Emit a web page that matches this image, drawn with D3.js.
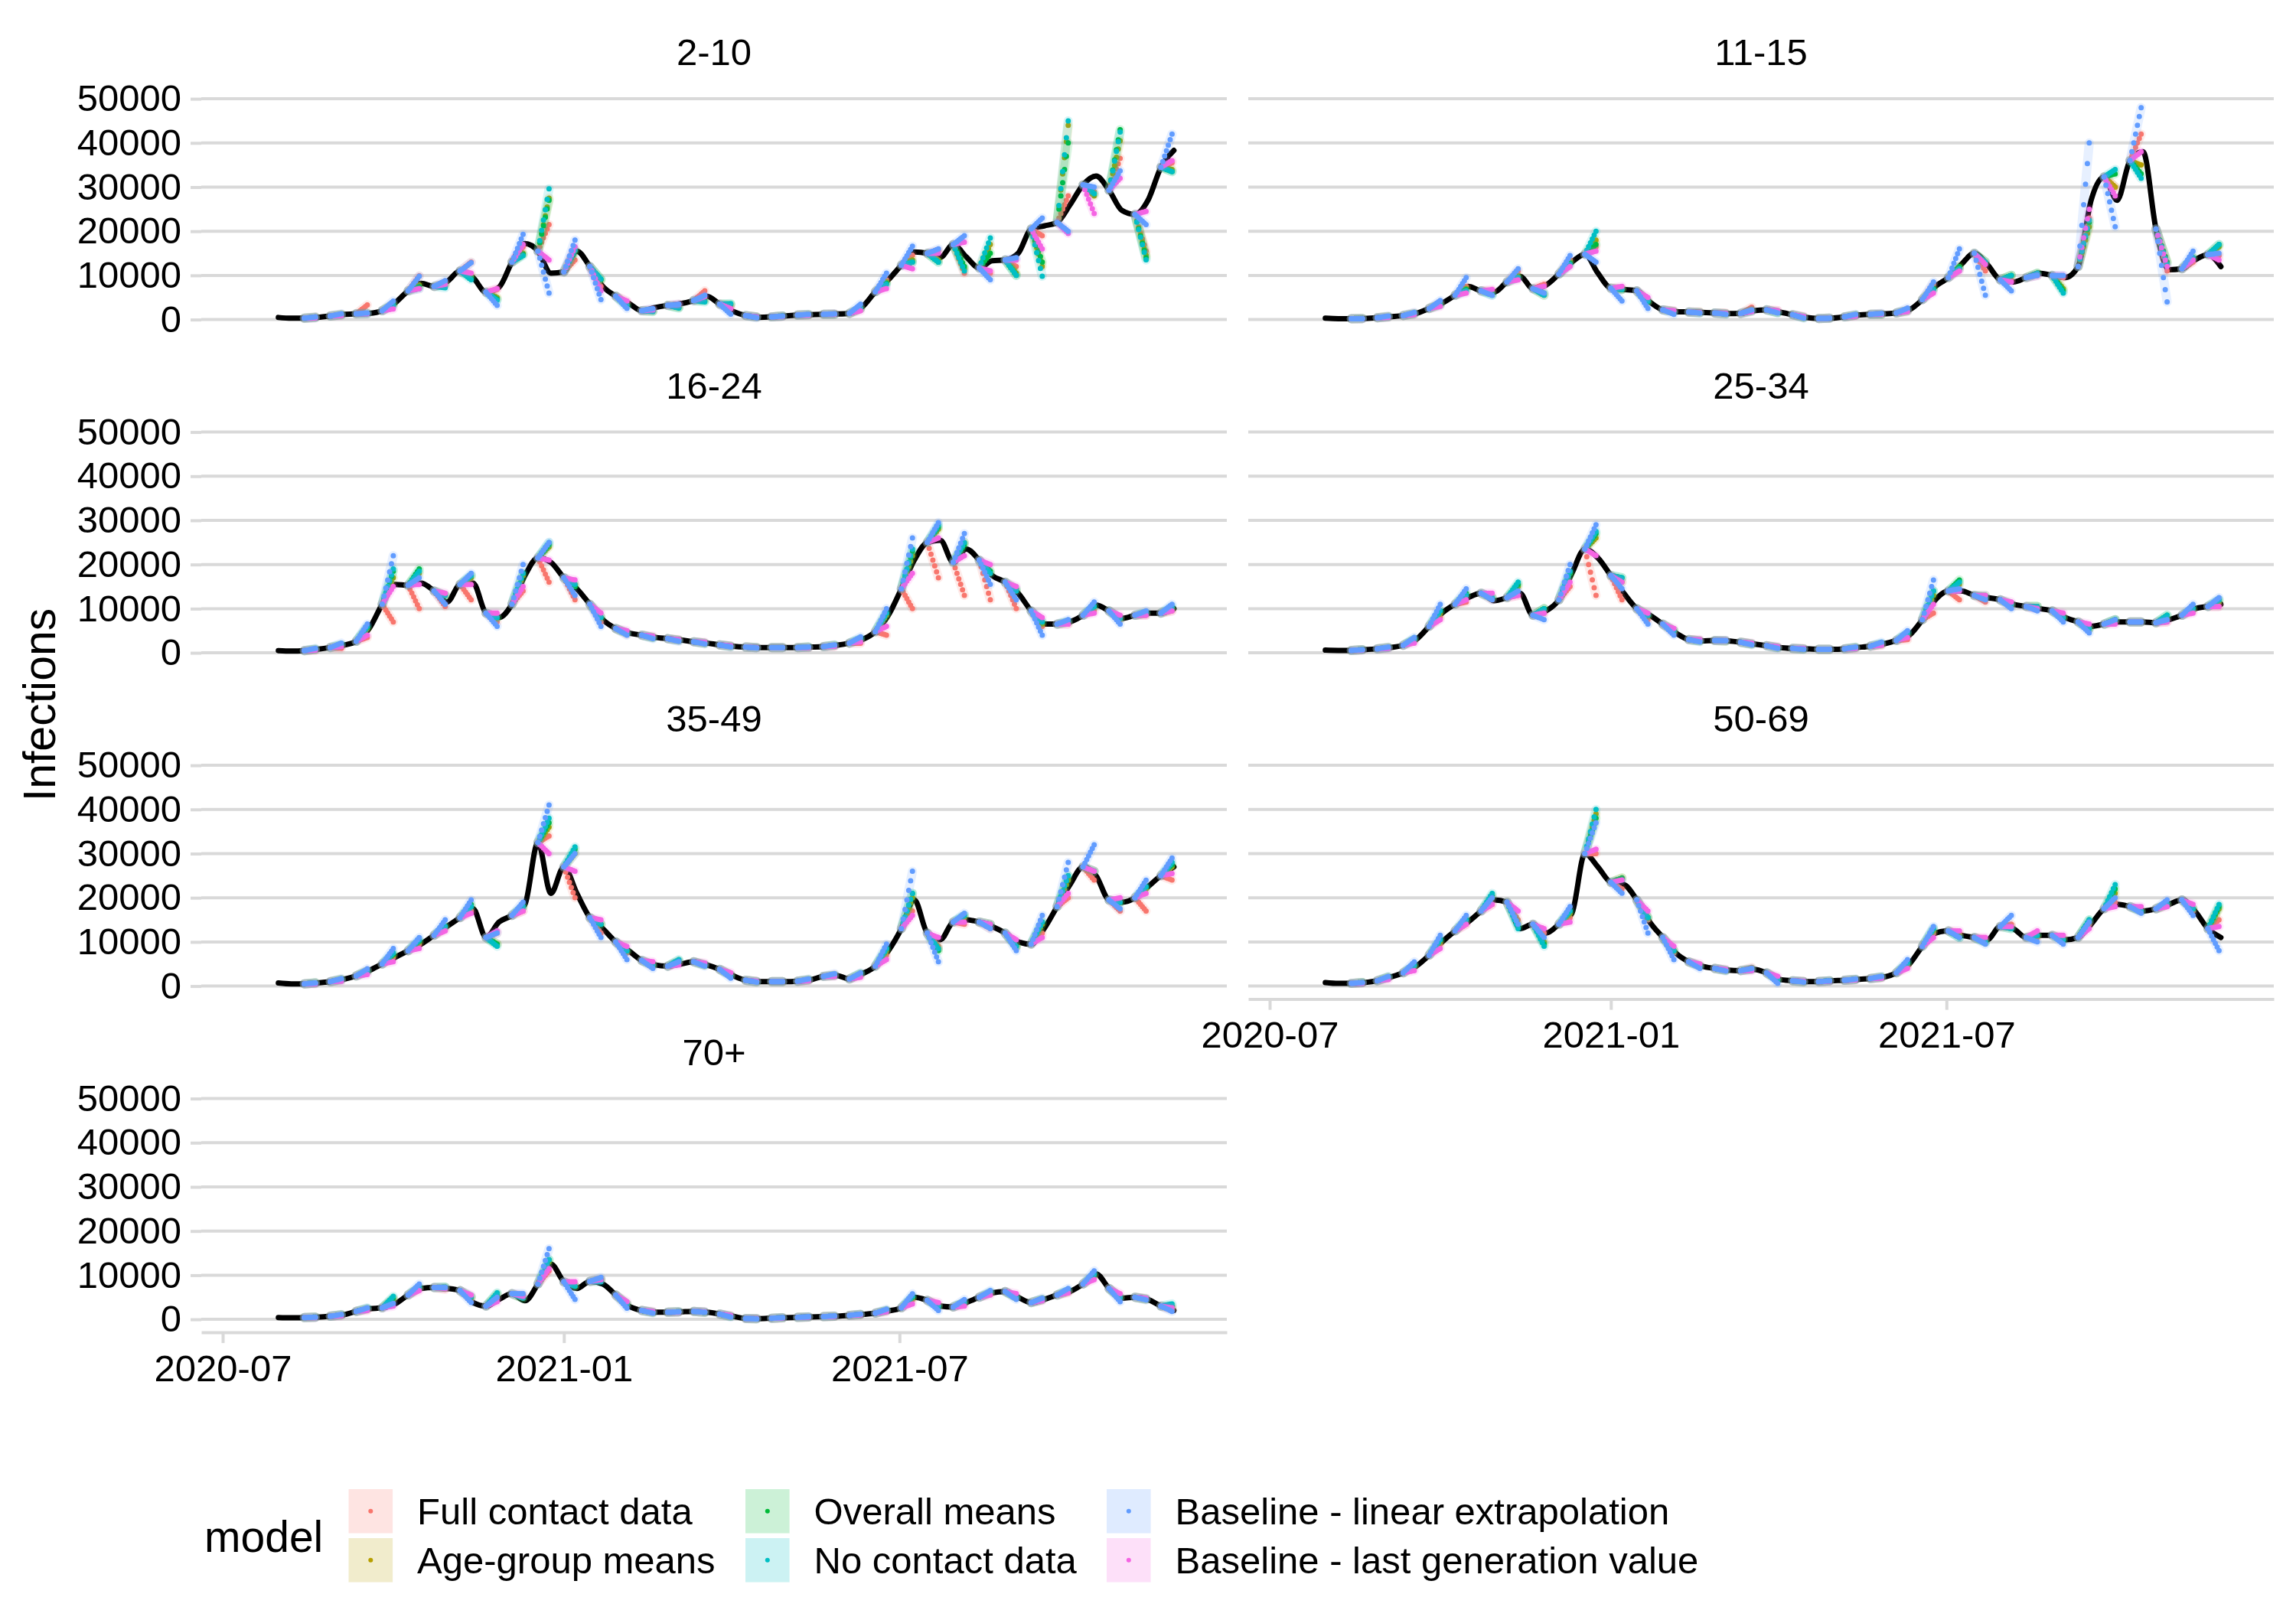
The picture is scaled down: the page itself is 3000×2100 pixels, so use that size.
<!DOCTYPE html>
<html>
<head>
<meta charset="utf-8">
<script src="https://cdn.jsdelivr.net/npm/d3@7"></script>
<style>
  body { margin: 0; background: #fff; }
  svg { display: block; font-family: "Liberation Sans", Arial, Helvetica, sans-serif; }
</style>
</head>
<body>
<div id="chart"></div>
<script>
// ---- data ----
const ageGroups = ["2-10", "11-15", "16-24", "25-34", "35-49", "50-69", "70+"];
const models = ["Full contact data", "Age-group means", "Overall means", "No contact data",
  "Baseline - linear extrapolation", "Baseline - last generation value"];
const modelColors = ["#F8766D", "#B79F00", "#00BA38", "#00BFC4", "#619CFF", "#F564E3"];
const yTicks = [0, 10000, 20000, 30000, 40000, 50000];
const xTicks = ["2020-07-01", "2021-01-01", "2021-07-01"];
const xTickLabels = ["2020-07", "2021-01", "2021-07"];

// weekly infections (observed), first week starts 2020-07-31
const truthStart = "2020-07-31";
const inf_2_10 = [470,300,300,500,800,1150,1300,1400,2000,3800,6500,8200,7500,8600,11000,9500,6200,7300,13000,17200,15500,10500,10800,15500,12000,7500,5300,3700,2000,2700,3200,3600,4300,5300,3500,1900,900,500,600,800,1000,1100,1200,1250,1400,2900,6300,9000,12300,15300,15000,14100,17000,14200,11700,13300,13500,15000,20500,21200,22000,26000,30500,32500,29300,24700,23800,27000,34500,38300];
const inf_11_15 = [300,200,200,250,400,650,900,1400,2500,3700,5500,7500,6500,6200,8500,9800,7000,7800,10300,13000,14800,10500,7100,6800,6500,4000,2200,1800,1700,1600,1500,1350,1400,2000,2200,1700,1100,500,250,300,600,1000,1200,1300,1500,2200,4500,7500,9500,12500,15000,12500,9000,8500,9500,10500,10000,9500,12000,27000,32300,27000,36000,38000,20500,11300,11500,13500,14700,12000];
const inf_16_24 = [500,400,500,800,1200,1700,2600,5500,11000,15500,15300,15800,14000,11500,15500,15800,9000,8000,11000,17500,21500,20500,17000,14500,11000,7500,5500,4500,4000,3500,3200,2900,2500,2200,1800,1500,1300,1200,1200,1200,1200,1300,1400,1700,2200,3000,4800,8500,14500,21000,25000,25500,20500,23500,21000,17500,16000,13500,9500,6500,6500,7000,8500,10800,9500,7800,8500,9000,9000,10000];
const inf_25_34 = [600,550,550,700,900,1200,1700,3000,6000,9000,11000,12500,13500,11800,12500,13500,8500,9500,12000,18000,23500,21500,17500,13500,10000,8500,6500,4500,3000,2700,2800,2700,2400,2000,1600,1200,1000,900,800,800,900,1200,1500,2000,2800,4000,7500,12000,14000,14000,13000,12500,12000,11000,10500,10000,9500,8000,7000,6000,6500,7000,7000,7000,6800,7500,8500,10000,10500,11000];
const inf_35_49 = [700,500,500,700,1000,1500,2300,3500,5000,6500,8000,9500,11500,13500,15500,17500,11000,14500,16000,18500,32500,21000,27000,21000,15500,13000,10000,8000,5800,4800,4500,5000,5500,4800,3800,2400,1300,1000,1000,1000,1100,1400,2200,2400,1600,2800,4500,8000,13000,19500,12000,10500,14500,15000,14500,13500,12000,10000,9500,13000,18000,23000,27000,25000,19500,19000,20000,22500,25000,27000];
const inf_50_69 = [800,600,600,800,1200,2000,3000,4500,7000,10000,12500,14500,17000,19500,19000,13000,14000,12000,14000,16500,30000,27000,23500,23000,19500,14500,11000,7500,5500,4500,4000,3600,3500,3800,3000,1500,1200,1000,1000,1200,1300,1500,1700,2000,3000,5000,9000,12000,12500,11500,11000,10500,13500,13000,11000,11500,11500,10500,11000,14000,17500,18500,18000,17000,17500,18500,19500,17000,13000,11000];
const inf_70 = [400,350,400,500,700,1000,1800,2400,2600,3500,5500,7000,7200,7000,6500,3800,3000,4500,5800,4200,8000,12500,8500,7000,8600,8000,5500,3000,2000,1600,1600,1700,1800,1600,1200,700,200,150,250,350,450,550,600,700,900,1100,1400,1900,2600,5000,4300,3000,2800,3800,5000,6000,6300,5000,3800,4500,5500,6300,8000,10300,7000,4800,5000,4500,3000,2000];

// forecast origins (every two weeks); each forecast runs 7 days
const forecastOrigins = ["2020-08-14","2020-08-28","2020-09-11","2020-09-25","2020-10-09","2020-10-23","2020-11-06","2020-11-20","2020-12-04","2020-12-18","2021-01-01","2021-01-15","2021-01-29","2021-02-12","2021-02-26","2021-03-12","2021-03-26","2021-04-09","2021-04-23","2021-05-07","2021-05-21","2021-06-04","2021-06-18","2021-07-02","2021-07-16","2021-07-30","2021-08-13","2021-08-27","2021-09-10","2021-09-24","2021-10-08","2021-10-22","2021-11-05","2021-11-19"];

// forecast value on the last day of each forecast (thousands), one row per age group
const fullContact = [
  [0.6,1.2,3.3,3.5,9.9,8.4,13,6.8,16.5,21.5,13.5,7.5,4,2.3,3.5,6.5,2.5,0.6,0.8,1.1,1.3,2.6,9,14.6,15.6,10.5,10.5,12,19,28,29,36.5,15.5,35.5],
  [0.25,0.7,1.5,3.8,7.5,6.5,11,8,13.5,16.5,6.8,4,1.9,1.7,1.5,2.8,2,0.6,0.3,1,1.3,2.2,8,11.5,11,9,10,9.5,23,30,42,11,13,14.5],
  [0.6,1,3.5,7,10,10.5,12,7,14,16,12,7,4.2,3.5,2.8,2.2,1.5,1.2,1.2,1.2,1.5,2.2,4,10,17,13,12,10,6,6.5,9.5,7.5,8.5,9.5],
  [0.7,1.2,2.8,8,11.5,12,13,9,15,13,12,7.5,4.5,2.8,2.7,2,1.2,0.9,0.8,1.1,1.8,3,9,12,11.5,10.5,10,8,5.5,7,7,7,9.5,10.5],
  [0.7,1.5,3.5,6.5,9.5,13,17,12,17,34,20,12,7.5,4.5,5.5,4.8,2.4,1,1,1.4,2.6,2.5,7,17,9,14,13,9,12,20,24,17,17,24],
  [0.8,1.9,4.5,9.5,14,18.5,15,12,15.5,30,22,15,7.5,4.5,3.6,4.2,1.5,1,1.2,1.5,2,4.5,12,12,10.5,14,11,11,14,19,17,18.5,17,15],
  [0.5,1,2.2,4.5,7,6.8,4.5,4.8,5.5,11,7.5,9,3.2,1.6,1.7,1.6,0.7,0.15,0.35,0.55,0.7,1.1,1.9,4.5,3.2,3.6,6,5,4.5,6.2,9.8,4.8,4.5,2.2]
];
const ageGroupMeans = [
  [0.5,1.1,1.4,3.6,7.8,8,10,5,15,27.5,15.8,9,3.4,1.9,2.8,4.5,3.3,0.6,0.8,1.1,1.2,2.5,8.5,13.5,13.5,11.5,17,10.5,12,44,28,40.5,14.5,34],
  [0.25,0.65,1.3,3.5,7,6,9.8,5.5,13,18,7,4.2,1.8,1.6,1.3,2,1.6,0.5,0.3,1,1.2,2,7,12,13,10,10.5,7,21,30,35,13,14,16.5],
  [0.8,1.7,5.5,17,18,13,17,8,17.5,24,15.5,8,4.5,3.5,2.9,2.2,1.5,1.2,1.2,1.3,1.7,3,8.5,22,28,25,18,14,6.5,7,10.5,7.8,9,10],
  [0.7,1.2,3,9,13,12.5,15,10,18,26,16,8.5,5,2.7,2.7,2,1.2,0.9,0.8,1.2,2,4.2,13,15.5,12.5,11,10.5,8,5.5,7.5,7,8,10,11.5],
  [0.7,1.5,3.4,7,10,13.5,18,9.5,18,36,30,14,8,4.8,5.5,4.8,2.5,1,1,1.4,2.4,2.8,8,20,8.5,15.5,14,9,14,24,26,19,22,27],
  [0.8,2,4.5,10,15,20,14,10,16.5,39,24.5,15.5,8,4.6,3.6,3.8,1.5,1,1.2,1.5,2,5,12.5,11.5,10,13.5,11.5,10.5,14.5,21,17,18.5,17.5,17.5],
  [0.5,1,2.4,4.6,7.2,7.2,5,5.5,4.8,13,7.5,9,3.5,1.6,1.7,1.6,0.7,0.15,0.35,0.55,0.7,1.1,2,4.8,3,3.8,6,5,4.5,6.3,10,5,4.6,2.5]
];
const overallMeans = [
  [0.5,1.1,1.4,3.4,7.5,8,9.5,4.6,14.8,27,15.5,9,3.2,1.9,2.7,4.2,3.5,0.6,0.8,1.1,1.2,2.5,8.2,13,13,12,15,10,13,40,28.5,43,14,33.5],
  [0.25,0.6,1.3,3.4,6.8,5.8,9.5,6,12.8,17,6.8,4,1.8,1.6,1.3,2,1.6,0.5,0.3,1,1.2,2,7,12,13,10,10.5,6.5,22,33,33,13,14,17],
  [0.8,1.8,5.8,18.5,19,13,17.5,8,18,24.5,15,8,4.5,3.5,2.9,2.2,1.5,1.2,1.2,1.3,1.7,3.1,9,23,28.5,24.5,18.5,14.5,7,7,10.5,7.8,9,10],
  [0.7,1.2,3.1,9.5,13.5,12.5,15.5,10,18,27,17,8.5,5,2.7,2.7,2,1.2,0.9,0.8,1.2,2,4.3,14,16.5,13,11,10.5,8,5.5,7.5,7,8.5,10,12],
  [0.7,1.5,3.4,7.2,10.2,13.5,18.5,9.5,18,37,31,14,8,4.8,5.8,4.8,2.5,1,1,1.4,2.4,2.8,8.5,21,8,16,14,9,14.5,25,26,19,22.5,27.5],
  [0.8,2,4.6,10.5,15,20.5,13.5,9.5,17,38,24.5,15.5,8,4.6,3.6,3.8,1.5,1,1.2,1.5,2,5.2,13,11,10,13,11.5,10.5,15,22,17,18.5,17.5,18],
  [0.5,1,2.4,4.8,7.2,7.3,5,5.8,4.8,13.5,7.5,9,3.5,1.6,1.7,1.6,0.7,0.15,0.35,0.55,0.7,1.1,2,5,3,3.8,6,5,4.5,6.5,10,5,4.6,3]
];
const noContact = [
  [0.4,1,1.3,3.2,7,7.2,9,4.4,14.5,29.6,15.8,9.2,3.2,1.8,2.6,4,3.6,0.6,0.8,1.1,1.2,2.5,8,13,13,11,18.5,10,9.8,45,28.5,42.5,13.5,33.5],
  [0.25,0.6,1.3,3.3,6.5,5.5,9.5,5.5,12.5,20,6.8,4.2,1.8,1.5,1.3,1.9,1.6,0.5,0.3,1,1.2,2,6.8,11.5,13,10,10.5,6,22.5,34,32,12.5,14,17],
  [0.8,1.8,6,19,18.5,13,17.5,8,18,25,15.5,8,4.5,3.4,2.8,2.2,1.5,1.2,1.2,1.3,1.7,3.2,9,23.5,29,25,18,14,7,7,10.5,7.8,9,10.5],
  [0.7,1.1,3.1,9.5,13,12.5,16,10,18.5,27.5,17,8.5,5,2.7,2.7,2,1.2,0.9,0.8,1.2,2.1,4.5,14,16,12.5,11,10.5,8,5.5,7.5,7,8.5,10,12],
  [0.7,1.4,3.3,7.5,10.5,13.5,18,9,18,38,31.5,14,8,4.8,6,4.8,2.5,1,1,1.4,2.4,2.8,8.5,21,8.5,16,14,9,14.5,25,26,19,22.5,28],
  [0.8,2,4.7,10.5,15,21,13,9,17,40,24,15.5,8,4.6,3.6,3.8,1.5,1,1.2,1.5,2,5.2,13,11,10,13,11.5,10.5,15,23,17,18.5,17.5,18.5],
  [0.5,1,2.5,5.2,7.2,7.3,5.2,6,4.8,13.5,7.5,8.5,3.5,1.6,1.7,1.6,0.7,0.15,0.35,0.55,0.7,1.1,2,5.2,3,3.8,6.2,5,4.5,6.5,10.2,5,4.6,3.5]
];
const linearExtrap = [
  [0.6,1.3,1.5,4.2,9.8,8.8,12.9,3.2,19.3,6,18,4.5,2.5,2.5,3.5,5.5,1.2,0.4,0.8,1.2,1.3,3.5,10.5,16.6,16,19,9,14,23,20,30,33.7,21.5,42],
  [0.2,0.8,1.6,4.3,9.5,5.5,11.5,6,14.5,13,4.2,2.5,1.2,1.5,1.2,2.2,1.5,0.3,0.3,1.2,1.4,2.6,8.5,16,5.5,6.5,10,10,40,21,48,4,15.5,15],
  [1,2.2,6.5,22,17,11,18,6,20,25,13,6,4,3.2,2.6,2,1.3,1.1,1.2,1.3,1.8,3.6,10,26,29.5,27,15.5,12,4,7.5,11.5,6.5,9.5,11],
  [0.7,1.3,3.5,11,14.5,12,14,7.5,20,29,14.5,6.5,4,2.5,2.8,1.8,1,0.8,0.8,1.3,2.4,5,16.5,14.5,12,10,9.5,7,4.5,7.5,7,7.5,11,12.5],
  [0.7,1.7,3.9,8.5,11,15,19.5,12,19,41,30,11,6,4,5.5,4.5,1.8,0.9,1,1.6,2.8,3,9.5,26,5.5,16.5,13,8,16,28,32,17.5,24,29],
  [0.8,2.2,5.5,11.5,16,20,14,11,18,37,21,12,6,4,3.4,4,0.6,0.9,1.2,1.6,2.2,6,13.5,11,9.5,16,10,9.5,14.5,20,16.5,19.5,16,8],
  [0.5,1.1,2.6,3.6,8,7.2,3.8,5,5.8,16,4.5,9.5,2.5,1.4,1.7,1.6,0.5,0.1,0.4,0.6,0.8,1.2,2.3,5.8,2,4.5,6.5,4.5,4.8,7,11,4,4.4,1.8]
];
const lastGeneration = [
  [0.35,0.9,1.3,2.4,7,8,10.5,7,17,13.5,16.5,6.5,4.2,2.2,3.4,5.2,2.5,0.6,0.7,1,1.2,2,7,11.5,15,17.5,11,13.5,16,19.5,24,32,24.5,36],
  [0.2,0.5,1.1,3,6,6.8,9,7.5,12,15.5,7.5,5,2,1.6,1.4,1.8,2,0.7,0.3,0.8,1.2,1.8,6,11,12.5,8.5,10,10,25,28,38,12,13.5,13.5],
  [0.6,1.4,4,15,15.5,13.5,15.5,9,15,21,16.5,9,5,3.8,3,2.4,1.6,1.2,1.2,1.2,1.5,2.5,6,18,26,22,20,15,8,6.5,9,8.5,8.5,9.5],
  [0.6,1,2.2,7.5,12,13.5,13,9,16,22,16,9,5.5,3,2.8,2.2,1.4,1,0.8,1,1.7,3.5,11,14,13,11.5,10,9,6.5,6.5,7,7,9,10.5],
  [0.5,1.1,2.6,5.5,8.5,12.5,16.5,12.5,17,30,26,15,9,5.5,4.8,5.2,3,1.1,1,1.2,2.2,2,6,16,11,14.5,14,10.5,11,21,26,20,21,25.5],
  [0.6,1.5,3.5,8.5,14,18.5,17,13,14.5,31,24,17,9,5,3.8,3.5,2.2,1.1,1.1,1.4,1.8,4,11,12.5,11,13.5,12.5,11.5,13,18,18,18,18.5,13.5],
  [0.4,0.8,2,3,6.5,7,5.5,4,5.2,11.5,8.5,9,4,1.8,1.6,1.7,0.9,0.2,0.3,0.5,0.65,1,1.7,3.5,3.8,3,5.5,5.8,4.2,6,9,5.8,4.8,2.6]
];

const truthByGroup = [inf_2_10, inf_11_15, inf_16_24, inf_25_34, inf_35_49, inf_50_69, inf_70];
const forecastByModel = [fullContact, ageGroupMeans, overallMeans, noContact, linearExtrap, lastGeneration];

// ---- layout ----
const W = 3000, H = 2100;
const panelW = 1340, panelH = 340;
const colX = [263, 1631];
const rowY = [94.6, 530.1, 965.6, 1401.1];
const gridColor = "#D9D9D9";
const parse = d3.timeParse("%Y-%m-%d");
const dayMs = 864e5;
const day0 = parse("2020-07-01");
const xDomain = [new Date(+day0 - 11.56 * dayMs), new Date(+day0 + 541.54 * dayMs)];
const yDomain = [-2950, 55975];

const svg = d3.select("#chart").append("svg")
  .attr("width", W).attr("height", H)
  .attr("viewBox", `0 0 ${W} ${H}`);

svg.append("rect").attr("width", W).attr("height", H).attr("fill", "#fff");

const t0 = parse(truthStart);
const origins = forecastOrigins.map(parse);
const drawOrder = [0, 1, 2, 3, 5, 4];

ageGroups.forEach((name, p) => {
  const r = Math.floor(p / 2), c = p % 2;
  const g = svg.append("g").attr("transform", `translate(${colX[c]},${rowY[r]})`);
  const x = d3.scaleTime().domain(xDomain).range([0, panelW]);
  const y = d3.scaleLinear().domain(yDomain).range([panelH, 0]);

  // grid
  g.selectAll("line.grid").data(yTicks).enter().append("line")
    .attr("class", "grid")
    .attr("x1", 0).attr("x2", panelW)
    .attr("y1", d => y(d)).attr("y2", d => y(d))
    .attr("stroke", gridColor).attr("stroke-width", 4);

  // strip title
  g.append("text")
    .attr("x", panelW / 2).attr("y", -9.6)
    .attr("text-anchor", "middle")
    .attr("font-size", 49).attr("fill", "#000")
    .text(name);

  // y axis on left column
  if (c === 0) {
    const ya = g.append("g").call(d3.axisLeft(y).tickValues(yTicks).tickSize(14).tickPadding(12).tickFormat(d3.format("d")));
    ya.select(".domain").remove();
    ya.selectAll(".tick line").attr("stroke", gridColor).attr("stroke-width", 4);
    ya.selectAll(".tick text").attr("font-size", 49).attr("fill", "#000")
      .attr("font-family", "Liberation Sans, Arial, sans-serif");
  }

  // x axis on the bottom panel of each column
  if (p === 6 || p === 5) {
    const xa = g.append("g").attr("transform", `translate(0,${panelH})`)
      .call(d3.axisBottom(x).tickValues(xTicks.map(parse)).tickSize(14).tickSizeOuter(0).tickPadding(15)
        .tickFormat((d, i) => xTickLabels[i]));
    xa.select(".domain").attr("stroke", gridColor).attr("stroke-width", 4);
    xa.selectAll(".tick line").attr("stroke", gridColor).attr("stroke-width", 4);
    xa.selectAll(".tick text").attr("font-size", 49).attr("fill", "#000")
      .attr("font-family", "Liberation Sans, Arial, sans-serif");
  }

  // observed infections
  const truth = truthByGroup[p];
  const series = truth.map((v, i) => ({ date: d3.timeDay.offset(t0, 7 * i), v: v }));
  const line = d3.line().x(d => x(d.date)).y(d => y(d.v)).curve(d3.curveMonotoneX);
  g.append("path").datum(series)
    .attr("d", line)
    .attr("fill", "none").attr("stroke", "#000")
    .attr("stroke-width", 7).attr("stroke-linejoin", "round").attr("stroke-linecap", "round");

  // forecasts, one dotted segment per origin
  drawOrder.forEach(m => {
    const vals = forecastByModel[m][p];
    const mg = g.append("g");
    vals.forEach((end, k) => {
      const o = origins[k];
      const wi = Math.round((o - t0) / (7 * dayMs));
      const x1 = x(o), y1 = y(truth[wi]);
      const x2 = x(d3.timeDay.offset(o, 6)), y2 = y(end * 1000);
      const gap = Math.hypot(x2 - x1, y2 - y1) / 6;
      // faint uncertainty halo
      mg.append("line")
        .attr("x1", x1).attr("y1", y1).attr("x2", x2).attr("y2", y2)
        .attr("stroke", modelColors[m]).attr("stroke-opacity", 0.15)
        .attr("stroke-width", 12).attr("stroke-linecap", "round");
      mg.append("line")
        .attr("x1", x1).attr("y1", y1).attr("x2", x2).attr("y2", y2)
        .attr("stroke", modelColors[m]).attr("stroke-width", 7)
        .attr("stroke-linecap", "round")
        .attr("stroke-dasharray", `0 ${Math.max(gap - 0.01, 0.5)}`);
    });
  });
});

// y axis title
svg.append("text")
  .attr("transform", "translate(72,921) rotate(-90)")
  .attr("text-anchor", "middle")
  .attr("font-size", 59).attr("fill", "#000")
  .text("Infections");

// legend
const legend = svg.append("g");
legend.append("text")
  .attr("x", 267).attr("y", 2028)
  .attr("font-size", 57).attr("fill", "#000")
  .text("model");
const legendColX = [455.5, 974, 1446];
const keySize = 57.6;
models.forEach((name, i) => {
  const col = Math.floor(i / 2), row = i % 2;
  const kx = legendColX[col], ky = 1946 + row * 64;
  legend.append("rect")
    .attr("x", kx).attr("y", ky).attr("width", keySize).attr("height", keySize)
    .attr("fill", modelColors[i]).attr("fill-opacity", 0.2);
  legend.append("circle")
    .attr("cx", kx + keySize / 2).attr("cy", ky + keySize / 2).attr("r", 3)
    .attr("fill", modelColors[i]);
  legend.append("text")
    .attr("x", kx + keySize + 32).attr("y", ky + keySize / 2)
    .attr("dy", "0.35em")
    .attr("font-size", 49).attr("fill", "#000")
    .text(name);
});
</script>
</body>
</html>
